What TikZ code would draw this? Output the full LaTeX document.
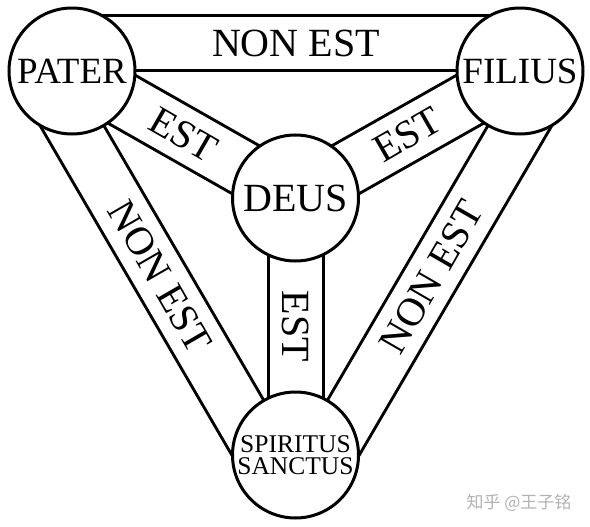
\documentclass[tikz,border=0pt]{standalone}
\usepackage{fontspec}
\setmainfont{Liberation Serif}
\newfontfamily\cjkfont{Noto Sans CJK SC}
\usetikzlibrary{calc,backgrounds}

\begin{document}
\begin{tikzpicture}[x=1pt, y=-1pt,
    disc/.style={circle, draw, fill=white, line width=3pt, minimum size=126pt, inner sep=0pt, font=\fontsize{37}{37}\selectfont},
    band/.style={draw, line width=3pt, double=white, double distance=52pt},
    word/.style={font=\fontsize{40}{40}\selectfont}]
    \useasboundingbox (0,0) rectangle (590,527);

    % Nodes
    \node[disc] (pater) at (72,71) {PATER};
    \node[disc] (filius) at (520,71) {FILIUS};
    \node[disc, font=\fontsize{40}{40}\selectfont] (deus) at (295.5,198) {DEUS};
    \node[disc, font=\fontsize{25.5}{22.5}\selectfont, align=center] (spiritus) at (295.5,455) {SPIRITUS\\SANCTUS};

    % Edges
    \begin{scope}[on background layer]
        \draw[band] ($(pater.center)!27.5pt!90:(filius.center)$) -- ($(filius.center)!27.5pt!-90:(pater.center)$)
            node[word, midway] {NON EST};
        \draw[band] ($(pater.center)!27.5pt!-90:(spiritus.center)$) -- ($(spiritus.center)!27.5pt!90:(pater.center)$)
            node[word, midway, rotate=-60] {NON EST};
        \draw[band] ($(filius.center)!27.5pt!90:(spiritus.center)$) -- ($(spiritus.center)!27.5pt!-90:(filius.center)$)
            node[word, midway, rotate=60] {NON EST};
        \draw[band] (pater.center) -- (deus.center) node[word, midway, rotate=-30] {EST};
        \draw[band] (deus.center) -- (filius.center) node[word, midway, rotate=30] {EST};
        \draw[band] (deus.center) -- (spiritus.center) node[word, midway, rotate=-90] {EST};
    \end{scope}

    \node[text=black!30, font=\cjkfont\fontsize{17}{17}\selectfont] (mark) at (519,503) {知乎 @王子铭};
\end{tikzpicture}
\end{document}
